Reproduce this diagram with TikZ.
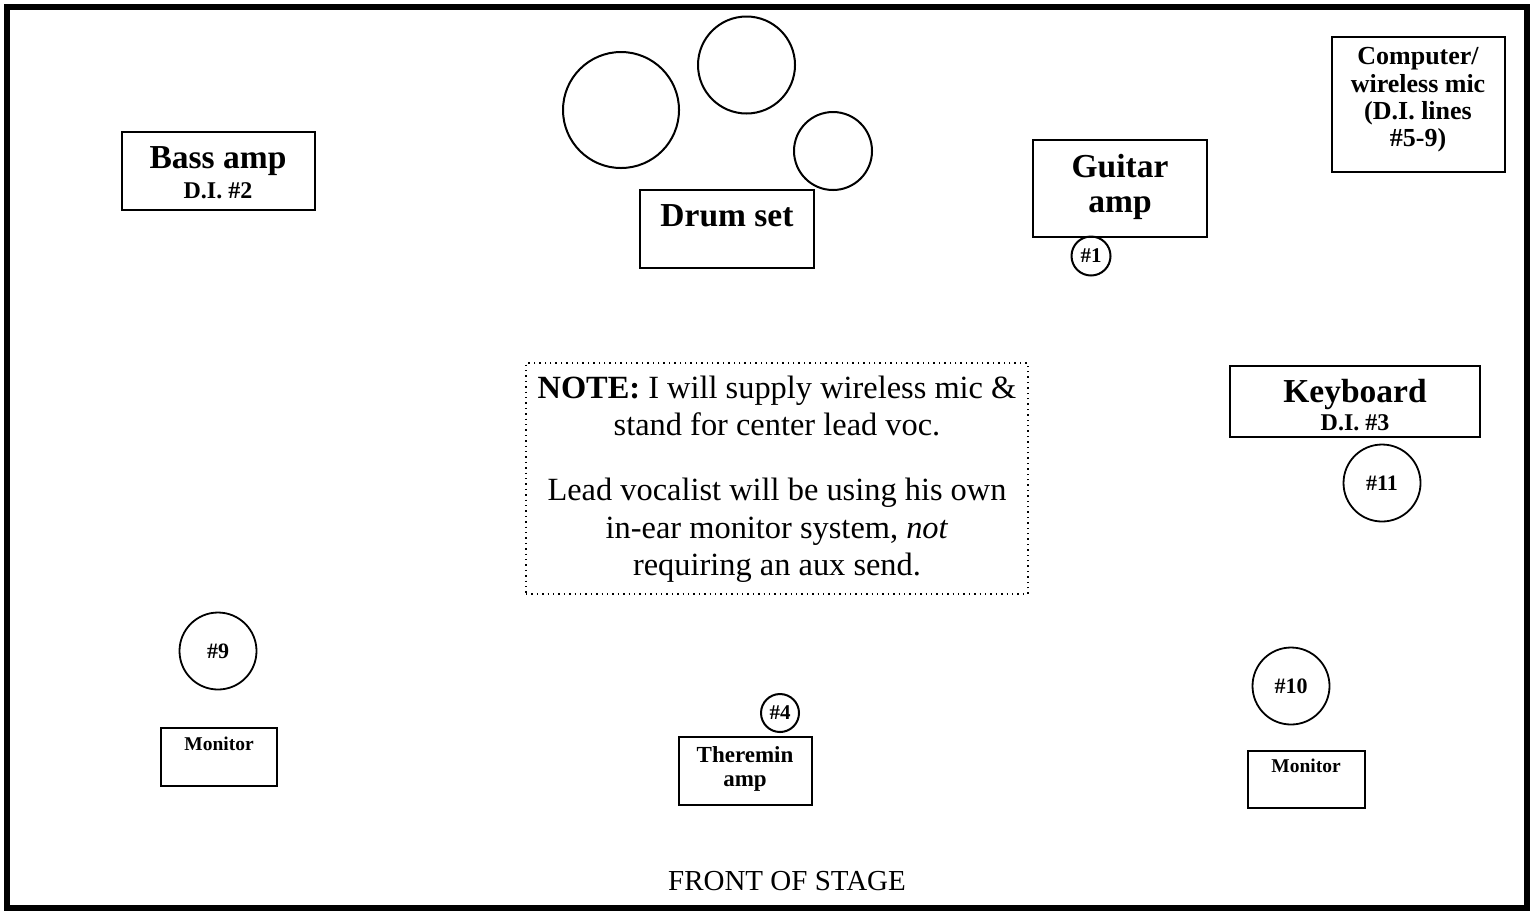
\documentclass[tikz,border=0pt]{standalone}
\usepackage{fontspec}
\setmainfont{Liberation Serif}
\begin{document}
\begin{tikzpicture}[x=0.5pt,y=-0.5pt,
  box/.style={draw, line width=1.4pt, inner sep=0pt},
  drum/.style={draw, circle, line width=1pt, inner sep=0pt},
  mic/.style={draw, circle, line width=0.9pt, inner sep=0pt, font=\fontsize{11}{13}\selectfont\bfseries},
  smallmic/.style={draw, circle, line width=1pt, inner sep=0pt, font=\fontsize{10.5}{12}\selectfont\bfseries},
  bigtxt/.style={anchor=base, inner sep=0pt, font=\fontsize{16.75}{20}\selectfont\bfseries},
  ditxt/.style={anchor=base, inner sep=0pt, font=\fontsize{12}{14}\selectfont\bfseries},
  comptxt/.style={anchor=base, inner sep=0pt, font=\fontsize{13}{15}\selectfont\bfseries},
  montxt/.style={anchor=base, inner sep=0pt, font=\fontsize{9.75}{11}\selectfont\bfseries},
  thertxt/.style={anchor=base, inner sep=0pt, font=\fontsize{11.5}{13}\selectfont\bfseries},
  notetxt/.style={anchor=base, inner sep=0pt, font=\fontsize{16.2}{19}\selectfont},
  fronttxt/.style={anchor=base, inner sep=0pt, font=\fontsize{14.5}{17}\selectfont}
]
\useasboundingbox (0,0) rectangle (1534,912);
% stage frame
\node[draw, line width=3pt, inner sep=0pt, minimum width=760pt, minimum height=450.5pt] (stage) at (767,457.5) {};

% bass amp
\node[box, minimum width=96.5pt, minimum height=39pt] (bass) at (218.5,171) {};
\node[bigtxt] (bassT) at (218,168) {Bass amp};
\node[ditxt] (bassD) at (218,198) {D.I. \#2};

% drums
\node[drum, minimum size=58pt] (tomA) at (621,110) {};
\node[drum, minimum size=48.5pt] (tomB) at (746.5,65) {};
\node[drum, minimum size=39pt] (tomC) at (833,151) {};
\node[box, minimum width=87pt, minimum height=39pt] (drum) at (727,229) {};
\node[bigtxt] (drumT) at (727,226) {Drum set};

% guitar amp
\node[box, minimum width=87pt, minimum height=48.5pt] (guitar) at (1120,188.5) {};
\node[bigtxt] (guitarT1) at (1120,177) {Guitar};
\node[bigtxt] (guitarT2) at (1120,212) {amp};
\node[smallmic, minimum size=19.5pt] (m1) at (1091,256) {\#1};

% computer
\node[box, minimum width=86.5pt, minimum height=67.5pt] (comp) at (1418.5,104.5) {};
\node[comptxt] (compT1) at (1418,64) {Computer/};
\node[comptxt] (compT2) at (1418,92) {wireless mic};
\node[comptxt] (compT3) at (1418,119) {(D.I. lines};
\node[comptxt] (compT4) at (1418,146) {\#5-9)};

% keyboard
\node[box, minimum width=125pt, minimum height=35.5pt] (keys) at (1355,401.5) {};
\node[bigtxt] (keysT) at (1355,402) {Keyboard};
\node[ditxt] (keysD) at (1355,430) {D.I. \#3};
\node[mic, minimum size=38.5pt] (m11) at (1382,483) {\#11};

% note
\node[draw, dotted, line width=0.7pt, inner sep=0pt, minimum width=251pt, minimum height=115.5pt] (note) at (777,478.5) {};
\node[notetxt] (note1) at (777,398) {\textbf{NOTE:} I will supply wireless mic \&};
\node[notetxt] (note2) at (777,435) {stand for center lead voc.};
\node[notetxt] (note3) at (777,500) {Lead vocalist will be using his own};
\node[notetxt] (note4) at (777,538) {in-ear monitor system, \textit{not}};
\node[notetxt] (note5) at (777,575) {requiring an aux send.};

% left monitor
\node[mic, minimum size=38.5pt] (m9) at (218,651) {\#9};
\node[box, minimum width=58pt, minimum height=29pt] (monL) at (219,757) {};
\node[montxt] (monLT) at (219,750) {Monitor};

% theremin
\node[smallmic, minimum size=19pt] (m4) at (780,713) {\#4};
\node[box, minimum width=66.5pt, minimum height=34pt] (ther) at (745.5,771) {};
\node[thertxt] (therT1) at (745,762) {Theremin};
\node[thertxt] (therT2) at (745,786) {amp};

% right monitor
\node[mic, minimum size=38.5pt] (m10) at (1291,686) {\#10};
\node[box, minimum width=58.5pt, minimum height=28.5pt] (monR) at (1306.5,779.5) {};
\node[montxt] (monRT) at (1306,772) {Monitor};

% front of stage
\node[fronttxt] (front) at (787,890) {FRONT OF STAGE};
\end{tikzpicture}
\end{document}
